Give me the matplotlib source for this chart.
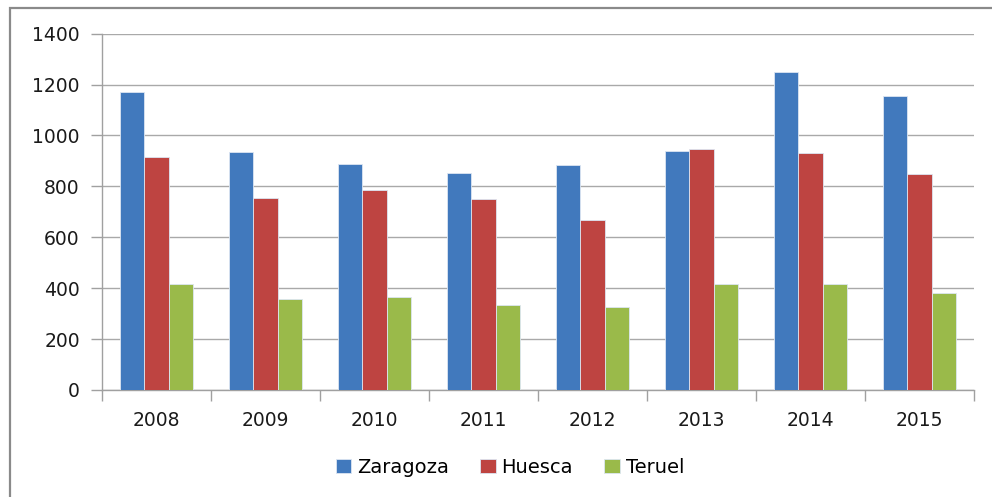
import numpy as np
import matplotlib
matplotlib.use("Agg")
import matplotlib.pyplot as plt
from matplotlib.patches import Rectangle

years = ["2008", "2009", "2010", "2011", "2012", "2013", "2014", "2015"]
zaragoza = [1172, 934, 888, 853, 883, 939, 1250, 1154]
huesca = [914, 754, 785, 749, 667, 948, 930, 849]
teruel = [416, 356, 364, 334, 326, 416, 416, 382]

series = [("Zaragoza", zaragoza, "#4179bd"),
          ("Huesca", huesca, "#be4441"),
          ("Teruel", teruel, "#9aba4a")]

plt.rcParams["font.family"] = ["DejaVu Sans"]

fig = plt.figure(figsize=(9.92, 4.97), dpi=100)
ax = fig.add_axes([0.1028, 0.2153, 0.8791, 0.7169])

x = np.arange(len(years))
w = 0.223
for i, (name, vals, col) in enumerate(series):
    ax.bar(x + (i - 1) * w, vals, w, color=col, edgecolor="#dce6f2",
           linewidth=0.6, label=name, zorder=3)

ax.set_xlim(-0.5, len(years) - 0.5)
ax.set_ylim(0, 1400)
ax.set_yticks(range(0, 1401, 200))
ax.set_xticks(x)
ax.set_xticklabels(years)
ax.set_xticks(np.arange(-0.5, len(years)), minor=True)

ax.grid(axis="y", color="#a9a9a9", linewidth=1.0, zorder=0)
ax.tick_params(axis="x", which="major", length=0, pad=15, labelsize=13.5, colors="#1a1a1a")
ax.tick_params(axis="x", which="minor", length=8, width=1, color="#a0a0a0")
ax.tick_params(axis="y", length=8, width=1, color="#a0a0a0", pad=8,
               labelsize=13.5, labelcolor="#1a1a1a")

for s in ["top", "right"]:
    ax.spines[s].set_visible(False)
for s in ["left", "bottom"]:
    ax.spines[s].set_color("#a0a0a0")
    ax.spines[s].set_linewidth(1)

ax.legend(loc="center", bbox_to_anchor=(0.514, 0.06), bbox_transform=fig.transFigure,
          ncol=3, frameon=False, fontsize=14, handlelength=0.8, handleheight=0.75,
          handletextpad=0.3, columnspacing=1.6)

# excel chart frame (cropped)
fig.add_artist(Rectangle((10 / 992, -0.1), 1.5, 1.1 - 8 / 497,
                         transform=fig.transFigure, fill=False,
                         edgecolor="#8a8a8a", linewidth=1.6, clip_on=False))

fig.savefig("out.png", dpi=100)
